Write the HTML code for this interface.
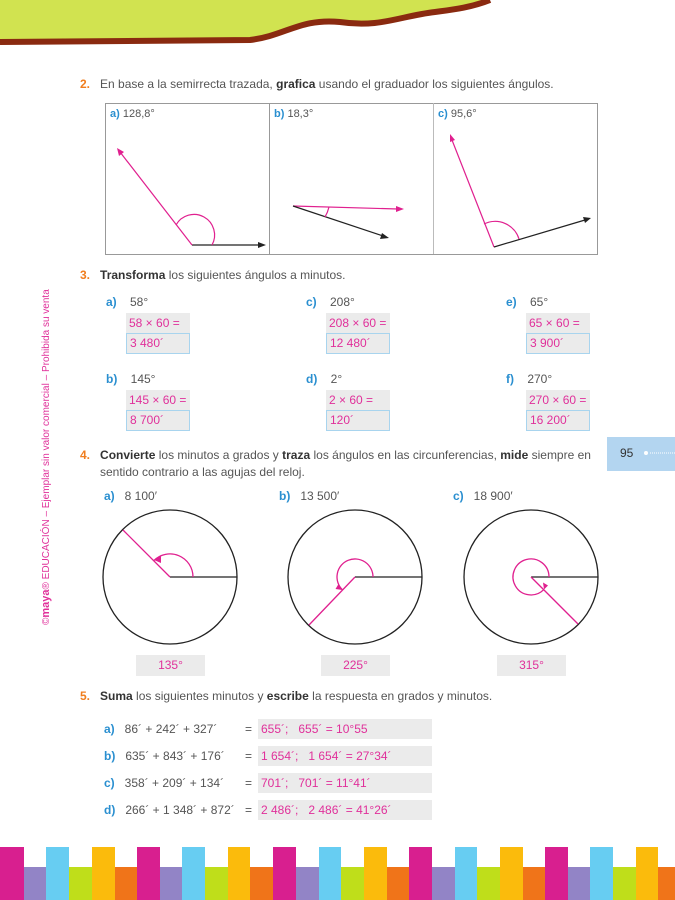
<!DOCTYPE html>
<html><head><meta charset="utf-8"><style>
body{margin:0;width:675px;height:900px;position:relative;overflow:hidden;background:#fff;font-family:"Liberation Sans",sans-serif;color:#555;font-size:12px}
.a{position:absolute;white-space:nowrap}
.n{color:#f07d1e;font-weight:bold}
.l{color:#2a8fd0;font-weight:bold}
b{color:#333}
.g{position:absolute;background:#ebebeb;color:#e0309a;font-size:12px;line-height:20px;padding-left:3px;box-sizing:border-box}
.g2{position:absolute;background:#ebebeb;color:#e0309a;font-size:12px;line-height:19px;padding-left:3px;border:1px solid #a8d4ee;box-sizing:border-box}
.c{text-align:center;padding:0}
</style></head><body>
<svg class="a" style="left:0;top:0" width="675" height="900">
<path d="M0,0 H490 C470,8 450,10 435,12 C400,16 380,28 340,22 C300,18 285,36 250,40 L0,42 Z" fill="#d1e350"/>
<path d="M0,42 L250,40 C285,36 300,18 340,22 C380,28 400,16 435,12 C450,10 470,8 490,0" fill="none" stroke="#8a2a10" stroke-width="6"/>
<rect x="105.5" y="103.5" width="492" height="151" fill="none" stroke="#999"/>
<line x1="269.5" y1="103" x2="269.5" y2="254" stroke="#999"/>
<line x1="433.5" y1="103" x2="433.5" y2="254" stroke="#bbb"/>
<g stroke-width="1.2" fill="none">
<line x1="192" y1="245" x2="260" y2="245" stroke="#222"/><path d="M266,245 l-8,-3 v6z" fill="#222"/>
<line x1="192" y1="245" x2="120" y2="152" stroke="#e0208f"/><path d="M117,148 l2,8 l5,-4z" fill="#e0208f"/>
<path d="M212,245 A20,20 0 0 0 176,225" stroke="#e0208f"/>
<line x1="293" y1="206" x2="398" y2="209" stroke="#e0208f"/><path d="M404,209 l-8,-3 v6z" fill="#e0208f"/>
<line x1="293" y1="206" x2="383" y2="236" stroke="#222"/><path d="M389,238 l-7,-5 l-2,6z" fill="#222"/>
<path d="M329,207 A36,36 0 0 1 325,217" stroke="#e0208f"/>
<line x1="494" y1="247" x2="452" y2="140" stroke="#e0208f"/><path d="M450,134 l0,8 l5,-2z" fill="#e0208f"/>
<line x1="494" y1="247" x2="585" y2="220" stroke="#222"/><path d="M591,218 l-8,-1 l2,6z" fill="#222"/>
<path d="M519,239 A25,25 0 0 0 484,224" stroke="#e0208f"/>
</g>
<g fill="none" stroke-width="1.3">
<circle cx="170" cy="577" r="67" stroke="#222"/>
<line x1="170" y1="577" x2="237" y2="577" stroke="#222"/>
<line x1="170" y1="577" x2="123" y2="530" stroke="#e0208f"/>
<path d="M193,577 A23,23 0 0 0 153.7,560.7" stroke="#e0208f"/><path d="M161,555 l0,8 l-7,-3z" fill="#e0208f" stroke="none"/>
<circle cx="355" cy="577" r="67" stroke="#222"/>
<line x1="355" y1="577" x2="422" y2="577" stroke="#222"/>
<line x1="355" y1="577" x2="309" y2="625" stroke="#e0208f"/>
<path d="M373,577 A18,18 0 1 0 342.3,589.7" stroke="#e0208f"/><path d="M342.5,590 l-7,-1 l3,-5z" fill="#e0208f" stroke="none"/>
<circle cx="531" cy="577" r="67" stroke="#222"/>
<line x1="531" y1="577" x2="598" y2="577" stroke="#222"/>
<line x1="531" y1="577" x2="578" y2="624" stroke="#e0208f"/>
<path d="M549,577 A18,18 0 1 0 543.7,589.7" stroke="#e0208f"/><path d="M544,589.5 l-1,-7 l5,3z" fill="#e0208f" stroke="none"/>
</g>
<g>
<rect x="0" y="847" width="24" height="53" fill="#d81f8f"/><rect x="24" y="867" width="22" height="33" fill="#9284c6"/>
<rect x="46" y="847" width="23" height="53" fill="#67cdf2"/><rect x="69" y="867" width="23" height="33" fill="#bfde1a"/>
<rect x="92" y="847" width="23" height="53" fill="#fbbb0c"/><rect x="115" y="867" width="22" height="33" fill="#f07419"/>
<rect x="137" y="847" width="23" height="53" fill="#d81f8f"/><rect x="160" y="867" width="22" height="33" fill="#9284c6"/>
<rect x="182" y="847" width="23" height="53" fill="#67cdf2"/><rect x="205" y="867" width="23" height="33" fill="#bfde1a"/>
<rect x="228" y="847" width="22" height="53" fill="#fbbb0c"/><rect x="250" y="867" width="23" height="33" fill="#f07419"/>
<rect x="273" y="847" width="23" height="53" fill="#d81f8f"/><rect x="296" y="867" width="23" height="33" fill="#9284c6"/>
<rect x="319" y="847" width="22" height="53" fill="#67cdf2"/><rect x="341" y="867" width="23" height="33" fill="#bfde1a"/>
<rect x="364" y="847" width="23" height="53" fill="#fbbb0c"/><rect x="387" y="867" width="22" height="33" fill="#f07419"/>
<rect x="409" y="847" width="23" height="53" fill="#d81f8f"/><rect x="432" y="867" width="23" height="33" fill="#9284c6"/>
<rect x="455" y="847" width="22" height="53" fill="#67cdf2"/><rect x="477" y="867" width="23" height="33" fill="#bfde1a"/>
<rect x="500" y="847" width="23" height="53" fill="#fbbb0c"/><rect x="523" y="867" width="22" height="33" fill="#f07419"/>
<rect x="545" y="847" width="23" height="53" fill="#d81f8f"/><rect x="568" y="867" width="22" height="33" fill="#9284c6"/>
<rect x="590" y="847" width="23" height="53" fill="#67cdf2"/><rect x="613" y="867" width="23" height="33" fill="#bfde1a"/>
<rect x="636" y="847" width="22" height="53" fill="#fbbb0c"/><rect x="658" y="867" width="17" height="33" fill="#f07419"/>
</g>
<rect x="607" y="437" width="68" height="34" fill="#b3d5f0"/>
<line x1="650" y1="453" x2="675" y2="453" stroke="#fff" stroke-dasharray="1,1"/>
<circle cx="646" cy="453" r="2" fill="#fff"/>
</svg>
<div class="a" style="left:620px;top:446px;font-size:12px;color:#333">95</div>
<div class="a" style="left:40px;top:625px;transform:rotate(-90deg);transform-origin:0 0;font-size:10px;color:#e0309a">©<b style="color:#e0309a;font-size:11px">maya</b>® EDUCACIÓN – Ejemplar sin valor comercial – Prohibida su venta</div>

<div class="a" style="left:80px;top:77px"><span class="n">2.</span>&nbsp;&nbsp; En base a la semirrecta trazada, <b>grafica</b> usando el graduador los siguientes ángulos.</div>
<div class="a" style="left:110px;top:108px;font-size:11px"><span class="l">a)</span> 128,8°</div>
<div class="a" style="left:274px;top:108px;font-size:11px"><span class="l">b)</span> 18,3°</div>
<div class="a" style="left:438px;top:108px;font-size:11px"><span class="l">c)</span> 95,6°</div>

<div class="a" style="left:80px;top:268px"><span class="n">3.</span>&nbsp;&nbsp; <b>Transforma</b> los siguientes ángulos a minutos.</div>
<div class="a" style="left:106px;top:295px"><span class="l">a)</span>&nbsp;&nbsp;&nbsp; 58°</div>
<div class="g" style="left:126px;top:313px;width:64px;height:20px">58 × 60 =</div>
<div class="g2" style="left:126px;top:333px;width:64px;height:21px">3 480´</div>
<div class="a" style="left:306px;top:295px"><span class="l">c)</span>&nbsp;&nbsp;&nbsp; 208°</div>
<div class="g" style="left:326px;top:313px;width:64px;height:20px">208 × 60 =</div>
<div class="g2" style="left:326px;top:333px;width:64px;height:21px">12 480´</div>
<div class="a" style="left:506px;top:295px"><span class="l">e)</span>&nbsp;&nbsp;&nbsp; 65°</div>
<div class="g" style="left:526px;top:313px;width:64px;height:20px">65 × 60 =</div>
<div class="g2" style="left:526px;top:333px;width:64px;height:21px">3 900´</div>
<div class="a" style="left:106px;top:372px"><span class="l">b)</span>&nbsp;&nbsp;&nbsp; 145°</div>
<div class="g" style="left:126px;top:390px;width:64px;height:20px">145 × 60 =</div>
<div class="g2" style="left:126px;top:410px;width:64px;height:21px">8 700´</div>
<div class="a" style="left:306px;top:372px"><span class="l">d)</span>&nbsp;&nbsp;&nbsp; 2°</div>
<div class="g" style="left:326px;top:390px;width:64px;height:20px">2 × 60 =</div>
<div class="g2" style="left:326px;top:410px;width:64px;height:21px">120´</div>
<div class="a" style="left:506px;top:372px"><span class="l">f)</span>&nbsp;&nbsp;&nbsp; 270°</div>
<div class="g" style="left:526px;top:390px;width:64px;height:20px">270 × 60 =</div>
<div class="g2" style="left:526px;top:410px;width:64px;height:21px">16 200´</div>

<div class="a" style="left:80px;top:447px;line-height:17px"><span class="n">4.</span>&nbsp;&nbsp; <b>Convierte</b> los minutos a grados y <b>traza</b> los ángulos en las circunferencias, <b>mide</b> siempre en<br>&nbsp;&nbsp;&nbsp;&nbsp;&nbsp; sentido contrario a las agujas del reloj.</div>
<div class="a" style="left:104px;top:489px"><span class="l">a)</span>&nbsp;&nbsp; 8 100′</div>
<div class="a" style="left:279px;top:489px"><span class="l">b)</span>&nbsp;&nbsp; 13 500′</div>
<div class="a" style="left:453px;top:489px"><span class="l">c)</span>&nbsp;&nbsp; 18 900′</div>
<div class="g c" style="left:136px;top:655px;width:69px;height:21px;text-align:center">135°</div>
<div class="g c" style="left:321px;top:655px;width:69px;height:21px;text-align:center">225°</div>
<div class="g c" style="left:497px;top:655px;width:69px;height:21px;text-align:center">315°</div>

<div class="a" style="left:80px;top:689px"><span class="n">5.</span>&nbsp;&nbsp; <b>Suma</b> los siguientes minutos y <b>escribe</b> la respuesta en grados y minutos.</div>
<div class="a" style="left:104px;top:722px"><span class="l">a)</span>&nbsp;&nbsp; 86´ + 242´ + 327´</div>
<div class="a" style="left:245px;top:722px">=</div>
<div class="g" style="left:258px;top:719px;width:174px;height:20px">655´;&nbsp;&nbsp; 655´ = 10°55</div>
<div class="a" style="left:104px;top:749px"><span class="l">b)</span>&nbsp;&nbsp; 635´ + 843´ + 176´</div>
<div class="a" style="left:245px;top:749px">=</div>
<div class="g" style="left:258px;top:746px;width:174px;height:20px">1 654´;&nbsp;&nbsp; 1 654´ = 27°34´</div>
<div class="a" style="left:104px;top:776px"><span class="l">c)</span>&nbsp;&nbsp; 358´ + 209´ + 134´</div>
<div class="a" style="left:245px;top:776px">=</div>
<div class="g" style="left:258px;top:773px;width:174px;height:20px">701´;&nbsp;&nbsp; 701´ = 11°41´</div>
<div class="a" style="left:104px;top:803px"><span class="l">d)</span>&nbsp;&nbsp; 266´ + 1 348´ + 872´</div>
<div class="a" style="left:245px;top:803px">=</div>
<div class="g" style="left:258px;top:800px;width:174px;height:20px">2 486´;&nbsp;&nbsp; 2 486´ = 41°26´</div>
</body></html>
